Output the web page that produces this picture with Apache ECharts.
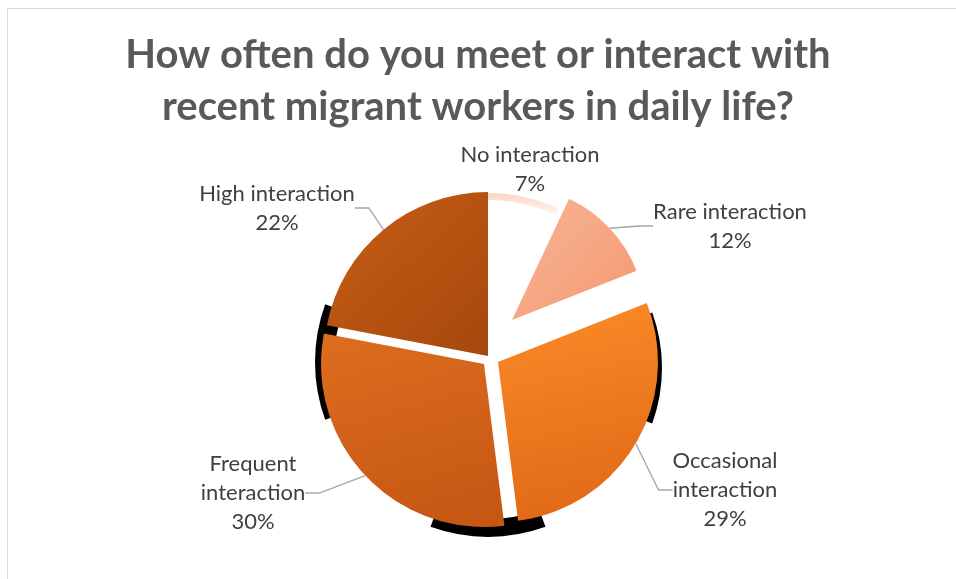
<!DOCTYPE html>
<html>
<head>
<meta charset="utf-8">
<script src="https://cdn.jsdelivr.net/npm/echarts@6/dist/echarts.min.js"></script>
<style>
html,body{margin:0;padding:0;background:#fff;}
#chart{width:956px;height:579px;}
</style>
</head>
<body>
<div id="chart"></div>
<script>
// ---- data ----
const titleText = 'How often do you meet or interact with\nrecent migrant workers in daily life?';
const categories = ['No interaction', 'Rare interaction', 'Occasional interaction', 'Frequent interaction', 'High interaction'];
const labelNames = ['No interaction', 'Rare interaction', 'Occasional\ninteraction', 'Frequent\ninteraction', 'High interaction'];
const values = [7, 12, 29, 30, 22];

// ---- styling (per slice) ----
function grad(c1, c2, x, y, x2, y2) {
  return new echarts.graphic.LinearGradient(x, y, x2, y2, [{offset: 0, color: c1}, {offset: 1, color: c2}]);
}
const sliceStyle = [
  {center: [488, 358], radius: 165, color: '#ffffff', line: false, label: [530, 169]},
  {center: [512, 320], radius: 134, color: grad('#f7b494', '#f49a72', 0, 0, 1, 1), line: true, label: [730, 226]},
  {center: [498, 362], radius: 160, color: grad('#fb8a28', '#df6816', 0.3, 0, 0.6, 1), line: true, label: [725, 490]},
  {center: [484, 364], radius: 163, color: grad('#dd6c1e', '#c65814', 0.2, 0, 0.5, 1), line: true, label: [253, 493]},
  {center: [488, 356], radius: 164, color: grad('#c85d16', '#a5480c', 0, 0, 1, 1), line: true, label: [277, 208]}
];

const transparent = 'rgba(0,0,0,0)';

function sliceSeries(i) {
  const st = sliceStyle[i];
  return {
    type: 'pie',
    name: categories[i],
    center: st.center,
    radius: st.radius,
    startAngle: 90,
    clockwise: true,
    avoidLabelOverlap: false,
    emphasis: {disabled: true},
    silent: true,
    z: 3,
    data: values.map((v, j) => ({
      name: categories[j],
      value: v,
      itemStyle: {color: j === i ? st.color : transparent, borderWidth: 0},
      label: {show: j === i},
      labelLine: {show: j === i && st.line}
    })),
    label: {
      position: 'outside',
      formatter: p => labelNames[p.dataIndex] + '\n' + Math.round(p.percent) + '%',
      fontFamily: 'Lato, "Open Sans", sans-serif',
      fontSize: 22,
      lineHeight: 29,
      color: '#404040',
      align: 'center'
    },
    labelLine: {
      lineStyle: {color: '#a6a6a6', width: 1.3},
      length: 18,
      length2: 14
    },
    labelLayout: function () {
      return {x: st.label[0], y: st.label[1], align: 'center', verticalAlign: 'middle'};
    }
  };
}

// thin pink rim along the "No interaction" arc
const rimSeries = {
  type: 'pie',
  center: [488, 358],
  radius: [158, 165],
  startAngle: 90,
  silent: true,
  z: 4,
  label: {show: false},
  labelLine: {show: false},
  emphasis: {disabled: true},
  data: values.map((v, j) => ({
    name: categories[j], value: v,
    itemStyle: {color: j === 0 ? grad('#fbd5c2', '#fff7f3', 0, 0, 0, 1) : transparent}
  }))
};

// decorative black bevel shadows (bottom, left, right)
function shadowSeries(center, radius, startAngle, span) {
  return {
    type: 'pie',
    center: center,
    radius: radius,
    startAngle: startAngle,
    silent: true,
    z: 1,
    label: {show: false},
    labelLine: {show: false},
    emphasis: {disabled: true},
    data: [
      {value: span, itemStyle: {color: '#000'}},
      {value: 360 - span, itemStyle: {color: transparent}}
    ]
  };
}

const option = {
  backgroundColor: '#ffffff',
  animation: false,
  title: {
    text: titleText,
    left: 'center',
    top: 24,
    textStyle: {
      fontFamily: 'Lato, "Open Sans", sans-serif',
      fontSize: 40,
      fontWeight: 'bold',
      color: '#595959',
      lineHeight: 52
    }
  },
  graphic: [{
    type: 'rect',
    shape: {x: 7.5, y: 8.5, width: 1000, height: 700},
    style: {fill: 'none', stroke: '#d9d9d9', lineWidth: 1},
    silent: true
  }],
  series: [
    shadowSeries([488, 369], [150, 168], -70, 40),
    shadowSeries([484, 362], [150, 169], 200, 40),
    shadowSeries([500, 368], [150, 162], 20, 40),
    sliceSeries(0),
    sliceSeries(1),
    sliceSeries(2),
    sliceSeries(3),
    sliceSeries(4),
    rimSeries
  ]
};

const chart = echarts.init(document.getElementById('chart'), null, {renderer: 'canvas'});
chart.setOption(option);
</script>
</body>
</html>
